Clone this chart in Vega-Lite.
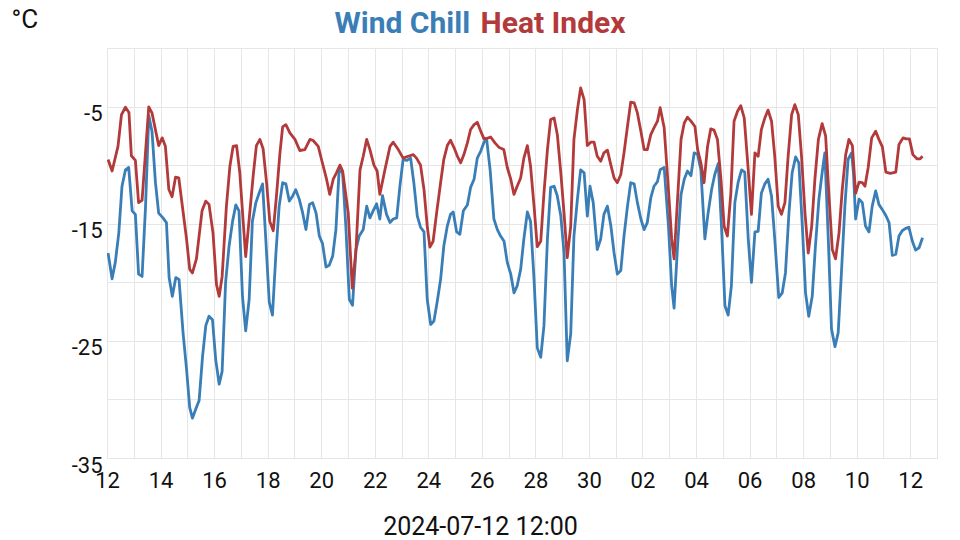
{
  "$schema": "https://vega.github.io/schema/vega-lite/v6.json",
  "width": 830,
  "height": 410,
  "autosize": {"type": "none"},
  "padding": {"left": 107, "top": 48, "right": 23, "bottom": 82},
  "background": "white",
  "config": {
    "view": {"stroke": "#e6e6e6", "strokeWidth": 1},
    "font": "Roboto",
    "axis": {"labelFont": "Roboto", "titleFont": "Roboto", "labelColor": "#111111", "titleColor": "#111111"}
  },
  "datasets": {
    "wind": [
      {"t":0.04,"v":-17.5},{"t":0.19,"v":-19.7},{"t":0.31,"v":-18.3},{"t":0.44,"v":-15.8},{"t":0.56,"v":-11.8},{"t":0.69,"v":-10.4},{"t":0.81,"v":-10.2},{"t":0.94,"v":-13.9},{"t":1.06,"v":-14.2},{"t":1.18,"v":-19.3},{"t":1.31,"v":-19.5},{"t":1.44,"v":-13.5},{"t":1.56,"v":-5.77},{"t":1.68,"v":-7.1},{"t":1.81,"v":-11.5},{"t":1.93,"v":-14.1},{"t":2.09,"v":-14.5},{"t":2.22,"v":-14.9},{"t":2.32,"v":-19.6},{"t":2.44,"v":-21.2},{"t":2.57,"v":-19.6},{"t":2.69,"v":-19.75},{"t":2.84,"v":-24.3},{"t":2.97,"v":-27.4},{"t":3.09,"v":-30.7},{"t":3.19,"v":-31.6},{"t":3.32,"v":-30.8},{"t":3.44,"v":-30.1},{"t":3.57,"v":-26.3},{"t":3.69,"v":-23.7},{"t":3.81,"v":-22.9},{"t":3.94,"v":-23.2},{"t":4.06,"v":-26.6},{"t":4.19,"v":-28.7},{"t":4.3,"v":-27.6},{"t":4.43,"v":-20.0},{"t":4.56,"v":-16.9},{"t":4.69,"v":-14.8},{"t":4.81,"v":-13.4},{"t":4.93,"v":-13.9},{"t":5.06,"v":-21.2},{"t":5.18,"v":-24.15},{"t":5.31,"v":-21.45},{"t":5.43,"v":-14.8},{"t":5.56,"v":-13.2},{"t":5.68,"v":-12.4},{"t":5.81,"v":-11.6},{"t":5.93,"v":-16.3},{"t":6.06,"v":-21.7},{"t":6.18,"v":-22.8},{"t":6.31,"v":-17.5},{"t":6.43,"v":-13.5},{"t":6.56,"v":-11.5},{"t":6.68,"v":-11.6},{"t":6.81,"v":-13.07},{"t":6.93,"v":-12.65},{"t":7.05,"v":-12.1},{"t":7.18,"v":-12.9},{"t":7.31,"v":-14.1},{"t":7.43,"v":-15.5},{"t":7.56,"v":-13.35},{"t":7.68,"v":-13.2},{"t":7.81,"v":-14.1},{"t":7.93,"v":-16.05},{"t":8.05,"v":-16.7},{"t":8.18,"v":-18.7},{"t":8.3,"v":-18.55},{"t":8.43,"v":-17.75},{"t":8.55,"v":-15.5},{"t":8.67,"v":-10.4},{"t":8.8,"v":-10.65},{"t":8.92,"v":-15.2},{"t":9.05,"v":-21.45},{"t":9.17,"v":-21.96},{"t":9.3,"v":-17.2},{"t":9.42,"v":-16.05},{"t":9.57,"v":-15.5},{"t":9.7,"v":-13.5},{"t":9.82,"v":-14.5},{"t":9.94,"v":-13.9},{"t":10.07,"v":-13.3},{"t":10.19,"v":-14.6},
      {"t":10.29,"v":-12.6},{"t":10.44,"v":-14.2},{"t":10.57,"v":-14.9},{"t":10.69,"v":-14.6},{"t":10.82,"v":-14.5},{"t":10.94,"v":-11.8},{"t":11.06,"v":-9.5},{"t":11.19,"v":-9.6},{"t":11.34,"v":-9.4},{"t":11.46,"v":-11.5},{"t":11.59,"v":-14.35},{"t":11.71,"v":-15.3},{"t":11.84,"v":-15.7},{"t":11.96,"v":-21.45},{"t":12.09,"v":-23.6},{"t":12.21,"v":-23.3},{"t":12.33,"v":-21.7},{"t":12.46,"v":-19.75},{"t":12.58,"v":-16.9},{"t":12.71,"v":-15.2},{"t":12.83,"v":-14.2},{"t":12.93,"v":-14.0},{"t":13.06,"v":-15.7},{"t":13.18,"v":-15.9},{"t":13.31,"v":-13.9},{"t":13.46,"v":-13.4},{"t":13.58,"v":-11.9},{"t":13.71,"v":-11.2},{"t":13.83,"v":-9.4},{"t":13.96,"v":-8.8},{"t":14.08,"v":-8.04},{"t":14.18,"v":-7.8},{"t":14.31,"v":-10.4},{"t":14.45,"v":-14.6},{"t":14.58,"v":-15.5},{"t":14.7,"v":-16.05},{"t":14.83,"v":-16.5},{"t":14.95,"v":-18.3},{"t":15.08,"v":-19.3},{"t":15.2,"v":-20.9},{"t":15.32,"v":-20.3},{"t":15.45,"v":-18.9},{"t":15.57,"v":-16.3},{"t":15.7,"v":-14.0},{"t":15.82,"v":-14.8},{"t":15.95,"v":-19.75},{"t":16.07,"v":-25.6},{"t":16.2,"v":-26.4},{"t":16.32,"v":-23.7},{"t":16.45,"v":-16.3},{"t":16.57,"v":-11.9},{"t":16.7,"v":-11.8},{"t":16.82,"v":-12.65},{"t":16.95,"v":-14.35},{"t":17.07,"v":-17.5},{"t":17.19,"v":-26.7},{"t":17.32,"v":-24.4},{"t":17.44,"v":-16.05},{"t":17.57,"v":-12.9},{"t":17.69,"v":-10.4},{"t":17.82,"v":-10.65},{"t":17.94,"v":-14.35},{"t":18.04,"v":-11.8},{"t":18.16,"v":-13.2},{"t":18.31,"v":-17.2},{"t":18.44,"v":-16.3},{"t":18.56,"v":-14.2},{"t":18.69,"v":-13.5},{"t":18.82,"v":-15.2},{"t":18.94,"v":-17.5},{"t":19.06,"v":-19.3},{"t":19.19,"v":-19.0},{"t":19.31,"v":-16.05},{"t":19.44,"v":-13.5},{"t":19.56,"v":-11.5},{"t":19.69,"v":-11.6},{"t":19.81,"v":-13.2},{"t":19.94,"v":-14.6},{"t":20.06,"v":-15.5},{"t":20.18,"v":-14.9},{"t":20.31,"v":-12.8},{"t":20.43,"v":-11.8},{"t":20.56,"v":-11.4},
      {"t":20.66,"v":-10.4},{"t":20.81,"v":-10.2},{"t":20.97,"v":-15.2},{"t":21.09,"v":-20.3},{"t":21.18,"v":-22.2},{"t":21.31,"v":-16.9},{"t":21.44,"v":-12.5},{"t":21.56,"v":-11.2},{"t":21.68,"v":-10.5},{"t":21.81,"v":-10.9},{"t":21.93,"v":-8.95},{"t":22.06,"v":-9.1},{"t":22.18,"v":-10.4},{"t":22.33,"v":-16.3},{"t":22.45,"v":-14.1},{"t":22.58,"v":-12.1},{"t":22.7,"v":-10.8},{"t":22.83,"v":-9.86},{"t":22.95,"v":-15.2},{"t":23.08,"v":-22.0},{"t":23.2,"v":-22.8},{"t":23.32,"v":-20.3},{"t":23.45,"v":-13.2},{"t":23.57,"v":-11.5},{"t":23.7,"v":-10.4},{"t":23.82,"v":-10.6},{"t":23.95,"v":-16.3},{"t":24.07,"v":-20.0},{"t":24.2,"v":-15.7},{"t":24.32,"v":-15.65},{"t":24.44,"v":-12.4},{"t":24.57,"v":-11.6},{"t":24.69,"v":-11.2},{"t":24.82,"v":-12.65},{"t":24.94,"v":-16.3},{"t":25.09,"v":-21.3},{"t":25.22,"v":-20.9},{"t":25.34,"v":-19.2},{"t":25.47,"v":-14.1},{"t":25.59,"v":-10.65},{"t":25.72,"v":-9.3},{"t":25.84,"v":-9.8},{"t":25.97,"v":-15.2},{"t":26.09,"v":-20.9},{"t":26.21,"v":-22.9},{"t":26.34,"v":-21.2},{"t":26.46,"v":-16.9},{"t":26.59,"v":-12.9},{"t":26.71,"v":-10.65},{"t":26.81,"v":-8.95},{"t":26.94,"v":-16.3},{"t":27.06,"v":-24.0},{"t":27.19,"v":-25.5},{"t":27.31,"v":-24.3},{"t":27.43,"v":-19.2},{"t":27.56,"v":-13.5},{"t":27.68,"v":-9.5},{"t":27.81,"v":-8.95},{"t":27.88,"v":-10.65},{"t":27.96,"v":-14.6},{"t":28.09,"v":-12.9},{"t":28.21,"v":-13.2},{"t":28.33,"v":-15.2},{"t":28.46,"v":-15.7},{"t":28.58,"v":-13.5},{"t":28.71,"v":-12.2},{"t":28.83,"v":-13.35},{"t":28.96,"v":-13.8},{"t":29.09,"v":-14.3},{"t":29.21,"v":-14.9},{"t":29.33,"v":-17.7},{"t":29.46,"v":-17.6},{"t":29.58,"v":-16.05},{"t":29.7,"v":-15.6},{"t":29.83,"v":-15.4},{"t":29.95,"v":-15.3},{"t":30.08,"v":-16.5},{"t":30.2,"v":-17.25},{"t":30.33,"v":-17.05},{"t":30.46,"v":-16.2}
    ],
    "heat": [
      {"t":0.04,"v":-9.52},{"t":0.19,"v":-10.5},{"t":0.41,"v":-8.4},{"t":0.54,"v":-5.7},{"t":0.69,"v":-5.06},{"t":0.82,"v":-5.5},{"t":0.91,"v":-9.2},{"t":1.06,"v":-9.6},{"t":1.18,"v":-13.2},{"t":1.31,"v":-13.0},{"t":1.56,"v":-5.03},{"t":1.68,"v":-5.54},{"t":1.93,"v":-8.33},{"t":2.06,"v":-7.67},{"t":2.18,"v":-8.38},{"t":2.31,"v":-12.08},{"t":2.43,"v":-12.7},{"t":2.56,"v":-11.03},{"t":2.68,"v":-11.08},{"t":2.97,"v":-16.3},{"t":3.09,"v":-18.9},{"t":3.19,"v":-19.2},{"t":3.34,"v":-18.0},{"t":3.55,"v":-13.9},{"t":3.69,"v":-13.07},{"t":3.81,"v":-13.35},{"t":3.96,"v":-15.8},{"t":4.09,"v":-20.2},{"t":4.19,"v":-21.2},{"t":4.3,"v":-19.5},{"t":4.46,"v":-13.5},{"t":4.59,"v":-10.1},{"t":4.71,"v":-8.4},{"t":4.84,"v":-8.33},{"t":4.96,"v":-10.65},{"t":5.08,"v":-14.6},{"t":5.18,"v":-17.8},{"t":5.31,"v":-14.6},{"t":5.46,"v":-10.9},{"t":5.58,"v":-8.33},{"t":5.71,"v":-7.8},{"t":5.83,"v":-8.6},{"t":5.96,"v":-11.5},{"t":6.08,"v":-14.8},{"t":6.21,"v":-15.6},{"t":6.33,"v":-12.6},{"t":6.46,"v":-8.95},{"t":6.56,"v":-6.73},{"t":6.68,"v":-6.54},{"t":6.83,"v":-7.25},{"t":7.02,"v":-7.8},{"t":7.2,"v":-8.75},{"t":7.39,"v":-8.67},{"t":7.58,"v":-7.8},{"t":7.7,"v":-7.9},{"t":7.89,"v":-8.4},{"t":8.01,"v":-9.5},{"t":8.2,"v":-11.2},{"t":8.32,"v":-12.5},{"t":8.45,"v":-11.2},{"t":8.57,"v":-10.65},{"t":8.7,"v":-10.0},{"t":8.8,"v":-10.5},{"t":9.01,"v":-14.1},{"t":9.16,"v":-20.5},{"t":9.3,"v":-17.2},{"t":9.45,"v":-10.4},{"t":9.57,"v":-9.24},{"t":9.7,"v":-7.8},{"t":9.82,"v":-8.67},{"t":9.97,"v":-10.0},{"t":10.09,"v":-10.5},{"t":10.19,"v":-12.5},
      {"t":10.38,"v":-10.4},{"t":10.57,"v":-8.4},{"t":10.69,"v":-8.04},{"t":10.88,"v":-8.67},{"t":11.06,"v":-9.4},{"t":11.25,"v":-9.24},{"t":11.44,"v":-9.1},{"t":11.56,"v":-9.4},{"t":11.71,"v":-10.0},{"t":11.84,"v":-12.1},{"t":11.96,"v":-15.2},{"t":12.06,"v":-17.0},{"t":12.18,"v":-16.5},{"t":12.31,"v":-14.1},{"t":12.46,"v":-11.5},{"t":12.58,"v":-9.5},{"t":12.71,"v":-8.33},{"t":12.83,"v":-7.87},{"t":12.96,"v":-8.5},{"t":13.08,"v":-9.2},{"t":13.21,"v":-9.8},{"t":13.33,"v":-9.1},{"t":13.46,"v":-8.1},{"t":13.58,"v":-6.96},{"t":13.71,"v":-6.54},{"t":13.83,"v":-6.34},{"t":13.96,"v":-7.1},{"t":14.08,"v":-7.76},{"t":14.21,"v":-7.7},{"t":14.33,"v":-7.6},{"t":14.49,"v":-8.1},{"t":14.65,"v":-8.5},{"t":14.82,"v":-8.67},{"t":14.95,"v":-10.2},{"t":15.08,"v":-11.2},{"t":15.2,"v":-12.5},{"t":15.32,"v":-11.8},{"t":15.45,"v":-11.1},{"t":15.57,"v":-9.4},{"t":15.7,"v":-8.33},{"t":15.82,"v":-10.1},{"t":15.95,"v":-13.5},{"t":16.07,"v":-16.96},{"t":16.2,"v":-16.5},{"t":16.32,"v":-12.4},{"t":16.45,"v":-8.67},{"t":16.57,"v":-6.1},{"t":16.7,"v":-5.97},{"t":16.82,"v":-7.4},{"t":16.95,"v":-10.65},{"t":17.07,"v":-14.1},{"t":17.19,"v":-17.9},{"t":17.32,"v":-15.2},{"t":17.44,"v":-7.8},{"t":17.57,"v":-5.26},{"t":17.69,"v":-3.41},{"t":17.82,"v":-4.4},{"t":17.94,"v":-8.33},{"t":18.07,"v":-8.04},{"t":18.19,"v":-8.04},{"t":18.31,"v":-9.24},{"t":18.44,"v":-9.66},{"t":18.56,"v":-8.95},{"t":18.69,"v":-8.72},{"t":18.82,"v":-10.0},{"t":18.94,"v":-11.1},{"t":19.06,"v":-11.5},{"t":19.19,"v":-10.8},{"t":19.31,"v":-8.95},{"t":19.44,"v":-6.68},{"t":19.56,"v":-4.63},{"t":19.69,"v":-4.69},{"t":19.81,"v":-5.54},{"t":19.94,"v":-7.1},{"t":20.06,"v":-8.67},{"t":20.18,"v":-8.67},{"t":20.31,"v":-7.4},{"t":20.43,"v":-6.82},{"t":20.56,"v":-6.25},
      {"t":20.66,"v":-5.1},{"t":20.81,"v":-6.8},{"t":20.97,"v":-12.1},{"t":21.09,"v":-16.3},{"t":21.18,"v":-18.0},{"t":21.31,"v":-12.9},{"t":21.44,"v":-7.8},{"t":21.56,"v":-6.4},{"t":21.68,"v":-5.9},{"t":21.81,"v":-6.25},{"t":21.96,"v":-6.7},{"t":22.06,"v":-8.67},{"t":22.18,"v":-9.8},{"t":22.3,"v":-11.5},{"t":22.43,"v":-8.4},{"t":22.55,"v":-6.9},{"t":22.67,"v":-7.0},{"t":22.8,"v":-7.8},{"t":22.93,"v":-11.2},{"t":23.05,"v":-15.2},{"t":23.17,"v":-16.05},{"t":23.3,"v":-12.4},{"t":23.42,"v":-6.25},{"t":23.55,"v":-5.4},{"t":23.67,"v":-4.92},{"t":23.8,"v":-5.97},{"t":23.92,"v":-9.5},{"t":24.07,"v":-14.2},{"t":24.2,"v":-8.95},{"t":24.32,"v":-9.24},{"t":24.44,"v":-6.96},{"t":24.57,"v":-5.97},{"t":24.69,"v":-5.3},{"t":24.82,"v":-6.25},{"t":24.94,"v":-9.24},{"t":25.07,"v":-13.5},{"t":25.19,"v":-14.2},{"t":25.32,"v":-13.2},{"t":25.44,"v":-9.24},{"t":25.57,"v":-5.7},{"t":25.69,"v":-4.83},{"t":25.82,"v":-5.7},{"t":25.94,"v":-9.24},{"t":26.07,"v":-14.1},{"t":26.19,"v":-17.5},{"t":26.32,"v":-15.2},{"t":26.44,"v":-11.2},{"t":26.57,"v":-7.8},{"t":26.71,"v":-6.45},{"t":26.84,"v":-7.5},{"t":26.96,"v":-12.4},{"t":27.09,"v":-17.2},{"t":27.21,"v":-18.0},{"t":27.34,"v":-15.8},{"t":27.46,"v":-12.1},{"t":27.59,"v":-9.1},{"t":27.71,"v":-7.8},{"t":27.84,"v":-8.33},{"t":27.96,"v":-12.4},{"t":28.09,"v":-11.45},{"t":28.21,"v":-11.5},{"t":28.31,"v":-11.8},{"t":28.43,"v":-10.2},{"t":28.56,"v":-7.67},{"t":28.71,"v":-7.1},{"t":28.83,"v":-7.8},{"t":28.96,"v":-8.44},{"t":29.09,"v":-10.6},{"t":29.26,"v":-10.7},{"t":29.46,"v":-10.6},{"t":29.58,"v":-8.24},{"t":29.73,"v":-7.67},{"t":29.85,"v":-7.76},{"t":29.97,"v":-7.76},{"t":30.1,"v":-9.1},{"t":30.25,"v":-9.46},{"t":30.37,"v":-9.46},{"t":30.46,"v":-9.24}
    ]
  },
  "layer": [
    {
      "data": {"name": "wind"},
      "mark": {"type": "line", "color": "#3a7eb7", "strokeWidth": 2.8, "strokeJoin": "round", "clip": true},
      "encoding": {
        "x": {
          "field": "t", "type": "quantitative",
          "scale": {"domain": [0, 31], "nice": false, "zero": false},
          "axis": {
            "values": [0,1,2,3,4,5,6,7,8,9,10,11,12,13,14,15,16,17,18,19,20,21,22,23,24,25,26,27,28,29,30,31],
            "grid": true, "gridColor": "#e6e6e6", "gridWidth": 1,
            "ticks": false, "domain": false,
            "labelExpr": "datum.value % 2 == 0 && datum.value <= 30 ? ['12','14','16','18','20','22','24','26','28','30','02','04','06','08','10','12'][datum.value / 2] : ''",
            "labelFontSize": 22, "labelPadding": 12, "labelOverlap": false, "labelFlush": false,
            "title": "2024-07-12 12:00", "titleFontSize": 25, "titleFontWeight": "normal",
            "titleAlign": "center", "titleBaseline": "top", "titleX": 373, "titleY": 56
          }
        },
        "y": {
          "field": "v", "type": "quantitative",
          "scale": {"domain": [-35, 0], "nice": false, "zero": false},
          "axis": {
            "values": [-35,-30,-25,-20,-15,-10,-5,0],
            "grid": true, "gridColor": "#e6e6e6", "gridWidth": 1,
            "ticks": false, "domain": false,
            "labelExpr": "datum.value % 10 == -5 ? '' + datum.value : ''",
            "labelFontSize": 22, "labelPadding": 5, "labelOverlap": false, "labelFlush": false,
            "labelBaseline": "top", "labelOffset": -3,
            "title": "°C", "titleAngle": 0, "titleFontSize": 26, "titleFontWeight": "normal",
            "titleAlign": "left", "titleBaseline": "top", "titleX": -96, "titleY": -42
          }
        }
      }
    },
    {
      "data": {"name": "heat"},
      "mark": {"type": "line", "color": "#b33a3b", "strokeWidth": 2.8, "strokeJoin": "round", "clip": true},
      "encoding": {
        "x": {
          "field": "t", "type": "quantitative",
          "axis": {
            "orient": "top", "grid": false, "ticks": false, "domain": false, "labels": false,
            "title": "Heat Index", "titleColor": "#b33a3b", "titleFontSize": 30, "titleFontWeight": "bold",
            "titleAlign": "left", "titleBaseline": "top", "titleX": 373, "titleY": -40
          }
        },
        "y": {
          "field": "v", "type": "quantitative",
          "axis": {
            "orient": "right", "grid": false, "ticks": false, "domain": false, "labels": false,
            "title": "Wind Chill", "titleColor": "#3a7eb7", "titleAngle": 0, "titleFontSize": 30, "titleFontWeight": "bold",
            "titleAlign": "left", "titleBaseline": "top", "titleX": -603, "titleY": -40
          }
        }
      }
    }
  ],
  "resolve": {"axis": {"x": "independent", "y": "independent"}}
}
